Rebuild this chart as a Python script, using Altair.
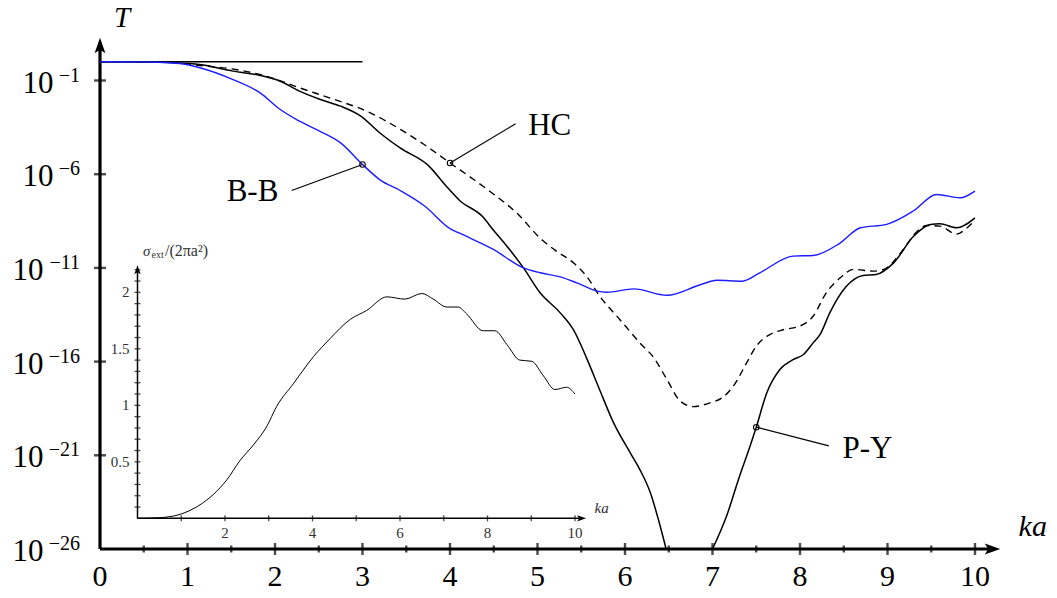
import altair as alt
import pandas as pd

# ---------------- data (log10 T versus ka) ----------------
bb_x = [0, 0.57, 0.91, 1.14, 1.52, 1.83, 2.06, 2.28, 2.51, 2.75, 3.0, 3.2, 3.43, 3.71, 4.0, 4.11,
        4.49, 4.84, 5.03, 5.26, 5.45, 5.68, 5.79, 6.1, 6.48, 6.86, 7.05, 7.34, 7.54, 7.92, 8.15,
        8.45, 8.69, 8.99, 9.3, 9.56, 9.83, 10.0]
bb_y = [0, -0.01, -0.09, -0.32, -0.95, -1.66, -2.55, -3.17, -3.7, -4.33, -5.48, -6.3, -6.87,
        -7.7, -8.9, -9.15, -10.0, -11.0, -11.26, -11.48, -11.8, -12.24, -12.3, -12.12, -12.46,
        -11.9, -11.66, -11.71, -11.26, -10.37, -10.34, -9.7, -8.86, -8.68, -7.95, -7.08, -7.26,
        -6.9]

py1_x = [0, 0.5, 0.85, 1.14, 1.52, 1.83, 2.06, 2.28, 2.51, 2.75, 2.98, 3.2, 3.43, 3.76, 3.95,
         4.11, 4.38, 4.49, 4.65, 4.84, 5.03, 5.26, 5.41, 5.56, 5.71, 5.87, 6.06, 6.17, 6.29, 6.38,
         6.47]
py1_y = [0, -0.01, -0.05, -0.15, -0.5, -0.73, -1.04, -1.57, -2.0, -2.37, -2.9, -3.8, -4.6, -5.57,
         -6.6, -7.4, -8.3, -8.95, -9.84, -11.0, -12.33, -13.4, -14.3, -15.8, -17.5, -19.27, -20.87,
         -21.76, -23.0, -24.4, -26.0]
py2_x = [7.0, 7.16, 7.31, 7.43, 7.5, 7.62, 7.77, 7.92, 8.04, 8.15, 8.23, 8.34, 8.53, 8.72, 8.87,
         9.07, 9.3, 9.49, 9.6, 9.79, 10.0]
py2_y = [-26.0, -24.25, -22.1, -20.5, -19.5, -17.67, -16.42, -15.9, -15.62, -15.0, -14.55, -13.4,
         -11.98, -11.4, -11.35, -10.73, -9.3, -8.68, -8.65, -8.86, -8.33]

hc_x = [0, 0.5, 0.85, 1.14, 1.51, 1.9, 2.28, 2.67, 3.05, 3.43, 3.7, 4.0, 4.27, 4.48, 4.76, 5.05,
        5.2, 5.41, 5.56, 5.71, 5.94, 6.17, 6.33, 6.48, 6.63, 6.78, 6.97, 7.12, 7.24, 7.39, 7.5,
        7.66, 7.81, 8.0, 8.15, 8.3, 8.46, 8.61, 8.84, 8.96, 9.15, 9.34, 9.45, 9.6, 9.79, 9.9, 10.0]
hc_y = [0, -0.01, -0.04, -0.2, -0.38, -0.77, -1.39, -2.0, -2.64, -3.6, -4.4, -5.4, -6.28, -7.0,
        -8.06, -9.5, -10.05, -10.73, -11.44, -12.5, -13.75, -15.0, -15.8, -16.96, -18.1, -18.4,
        -18.2, -17.9, -17.3, -16.07, -15.18, -14.55, -14.3, -14.1, -13.58, -12.33, -11.53, -11.08,
        -11.17, -11.08, -10.2, -9.04, -8.74, -8.77, -9.2, -8.9, -8.45]

flat_x = [0, 3]
flat_y = [0, 0]

# inset: sigma_ext / (2 pi a^2) versus ka
sig_x = [0, 0.51, 0.97, 1.43, 1.73, 2.04, 2.34, 2.65, 2.95, 3.18, 3.56, 4.02, 4.4, 4.86, 5.24,
         5.7, 6.11, 6.5, 6.76, 7.07, 7.33, 7.52, 7.9, 8.17, 8.44, 8.74, 9.01, 9.28, 9.54, 9.81, 10.0]
sig_y = [0, 0.006, 0.035, 0.12, 0.21, 0.34, 0.51, 0.65, 0.81, 0.99, 1.19, 1.43, 1.59, 1.76, 1.84,
         1.96, 1.94, 1.99, 1.94, 1.87, 1.87, 1.81, 1.66, 1.66, 1.54, 1.40, 1.39, 1.26, 1.14, 1.16,
         1.10]

# axes / ticks / labels
x_major = [1, 2, 3, 4, 5, 6, 7, 8, 9, 10]
x_minor = [0.5, 1.5, 2.5, 3.5, 4.5, 5.5, 6.5, 7.5, 8.5, 9.5]
x_lab = [0, 1, 2, 3, 4, 5, 6, 7, 8, 9, 10]
y_tick = [-1, -6, -11, -16, -21]
y_lab_short = [-1, -6]
y_lab_long = [-11, -16, -21, -26]
y_lab = y_lab_short + y_lab_long
y_exp_text = ["\u22121", "\u22126", "\u221211", "\u221216", "\u221221", "\u221226"]
axis_end_x = 10.2
axis_end_y = 0.87

ins_x_tick = [1, 2, 3, 4, 5, 6, 7, 8, 9, 10]
ins_x_lab = [2, 4, 6, 8, 10]
ins_y_tick = [0.1, 0.2, 0.3, 0.4, 0.5, 0.6, 0.7, 0.8, 0.9, 1.0, 1.1, 1.2, 1.3, 1.4, 1.5, 1.6,
              1.7, 1.8, 1.9, 2.0, 2.1, 2.2]
ins_y_lab = [0.5, 1.0, 1.5, 2.0]
ins_y_lab_text = ["0.5", "1", "1.5", "2"]
ins_end_x = 10.15
ins_end_y = 2.2

# annotations
mk_x = [3.0, 4.0, 7.5]
mk_y = [-5.48, -5.4, -19.5]
ld_x = [2.19, 4.75, 8.33]
ld_y = [-6.87, -3.31, -20.5]
ann_text = ["B-B", "HC", "P-Y"]
ann_x = [1.743, 5.14, 8.77]
ann_y = [-7.44, -3.93, -21.13]

# ---------------- chart ----------------
FONT = "Liberation Serif"
BLUE = "#1c1cff"
W, H = 918.75, 543.46

XS = alt.Scale(domain=[0, 10.5], nice=False, zero=False)
YS = alt.Scale(domain=[-26, 3], nice=False, zero=False)
IXS = alt.Scale(domain=[0, 10], range=[37.5, 475], nice=False, zero=False)
IYS = alt.Scale(domain=[0, 2], range=[512.8, 286.8], nice=False, zero=False)


def mx(f="x"):
    return alt.X(f"{f}:Q", scale=XS, axis=None)


def my(f="y"):
    return alt.Y(f"{f}:Q", scale=YS, axis=None)


def ix(f="x"):
    return alt.X(f"{f}:Q", scale=IXS, axis=None)


def iy(f="y"):
    return alt.Y(f"{f}:Q", scale=IYS, axis=None)


bb = pd.DataFrame({"x": bb_x, "y": bb_y})
py = pd.DataFrame({"x": py1_x + py2_x, "y": py1_y + py2_y,
                   "seg": ["a"] * len(py1_x) + ["b"] * len(py2_x)})
hc = pd.DataFrame({"x": hc_x, "y": hc_y})
flat = pd.DataFrame({"x": flat_x, "y": flat_y})

l_flat = alt.Chart(flat).mark_line(color="black", strokeWidth=1.3).encode(x=mx(), y=my())
l_hc = alt.Chart(hc).mark_line(color="black", strokeWidth=1.4, strokeDash=[7, 5],
                               interpolate="monotone").encode(x=mx(), y=my())
l_py = alt.Chart(py).mark_line(color="black", strokeWidth=1.5, interpolate="monotone").encode(
    x=mx(), y=my(), detail="seg:N")
l_bb = alt.Chart(bb).mark_line(color=BLUE, strokeWidth=1.4, interpolate="monotone").encode(
    x=mx(), y=my())

axes_df = pd.DataFrame({"x": [0, 0], "x2": [axis_end_x, 0], "y": [-26, -26], "y2": [-26, axis_end_y]})
l_axes = alt.Chart(axes_df).mark_rule(color="black", strokeWidth=3.2).encode(
    x=mx(), x2="x2:Q", y=my(), y2="y2:Q")
arrow_r = alt.Chart(pd.DataFrame({"x": [axis_end_x], "y": [-26]})).mark_point(
    shape="M-1,-0.7L1,0L-1,0.7L-0.55,0Z", size=240, filled=True, color="black", opacity=1
).encode(x=mx(), y=my())
arrow_u = alt.Chart(pd.DataFrame({"x": [0], "y": [axis_end_y]})).mark_point(
    shape="M-0.7,1L0,-1L0.7,1L0,0.55Z", size=240, filled=True, color="black", opacity=1
).encode(x=mx(), y=my())

tk_major = alt.Chart(pd.DataFrame({"x": x_major, "y": [-26] * len(x_major)})).mark_tick(
    orient="vertical", size=12, thickness=2.4, color="black").encode(x=mx(), y=my())
tk_minor = alt.Chart(pd.DataFrame({"x": x_minor, "y": [-26] * len(x_minor)})).mark_tick(
    orient="vertical", size=7, thickness=2.4, color="black").encode(x=mx(), y=my())
tk_y = alt.Chart(pd.DataFrame({"x": [0] * len(y_tick), "y": y_tick})).mark_tick(
    orient="horizontal", size=12, thickness=2.4, color="black").encode(x=mx(), y=my())

lab_x = alt.Chart(pd.DataFrame({"x": x_lab, "y": [-26] * len(x_lab), "t": [str(v) for v in x_lab]})
                  ).mark_text(font=FONT, fontSize=30, baseline="middle", dy=28, color="black"
                              ).encode(x=mx(), y=my(), text="t:N")
lab_10a = alt.Chart(pd.DataFrame({"x": [0] * len(y_lab_short), "y": y_lab_short,
                                  "t": ["10"] * len(y_lab_short)})).mark_text(
    font=FONT, fontSize=31, align="right", baseline="alphabetic", dx=-46.5, dy=12, color="black"
).encode(x=mx(), y=my(), text="t:N")
lab_10b = alt.Chart(pd.DataFrame({"x": [0] * len(y_lab_long), "y": y_lab_long,
                                  "t": ["10"] * len(y_lab_long)})).mark_text(
    font=FONT, fontSize=31, align="right", baseline="alphabetic", dx=-56.5, dy=12, color="black"
).encode(x=mx(), y=my(), text="t:N")
lab_exp = alt.Chart(pd.DataFrame({"x": [0] * len(y_lab), "y": y_lab, "t": y_exp_text})).mark_text(
    font=FONT, fontSize=20, align="right", baseline="alphabetic", dx=-20, dy=1, color="black"
).encode(x=mx(), y=my(), text="t:N")
t_lab = alt.Chart(pd.DataFrame({"x": [0.251], "y": [1.88], "t": ["T"]})).mark_text(
    font=FONT, fontSize=29, fontStyle="italic", baseline="alphabetic", color="black"
).encode(x=mx(), y=my(), text="t:N")
ka_lab = alt.Chart(pd.DataFrame({"x": [10.66], "y": [-25.33], "t": ["ka"]})).mark_text(
    font=FONT, fontSize=30, fontStyle="italic", baseline="alphabetic", color="black"
).encode(x=mx(), y=my(), text="t:N")

ann = pd.DataFrame({"x": mk_x, "y": mk_y, "x2": ld_x, "y2": ld_y,
                    "tx": ann_x, "ty": ann_y, "t": ann_text})
l_lead = alt.Chart(ann).mark_rule(color="black", strokeWidth=1.2).encode(
    x=mx(), y=my(), x2="x2:Q", y2="y2:Q")
l_mk = alt.Chart(ann).mark_point(shape="circle", size=30, filled=False, color="black",
                                 strokeWidth=1.1, opacity=1).encode(x=mx(), y=my())
l_ann = alt.Chart(ann).mark_text(font=FONT, fontSize=31, baseline="alphabetic", color="black"
                                 ).encode(x=mx("tx"), y=my("ty"), text="t:N")

main = alt.layer(l_axes, arrow_r, arrow_u, tk_major, tk_minor, tk_y, lab_x, lab_10a, lab_10b,
                 lab_exp, t_lab, ka_lab, l_flat, l_hc, l_py, l_bb, l_lead, l_mk, l_ann)

# ---- inset ----
sig = pd.DataFrame({"x": sig_x, "y": sig_y})
i_curve = alt.Chart(sig).mark_line(color="black", strokeWidth=1.0, interpolate="monotone").encode(
    x=ix(), y=iy())
i_axes_df = pd.DataFrame({"x": [0, 0], "x2": [ins_end_x, 0], "y": [0, 0], "y2": [0, ins_end_y]})
i_axes = alt.Chart(i_axes_df).mark_rule(color="black", strokeWidth=1.5).encode(
    x=ix(), x2="x2:Q", y=iy(), y2="y2:Q")
i_arr_r = alt.Chart(pd.DataFrame({"x": [ins_end_x], "y": [0]})).mark_point(
    shape="M-1,-0.7L1,0L-1,0.7L-0.55,0Z", size=80, filled=True, color="black", opacity=1
).encode(x=ix(), y=iy())
i_arr_u = alt.Chart(pd.DataFrame({"x": [0], "y": [ins_end_y]})).mark_point(
    shape="M-0.7,1L0,-1L0.7,1L0,0.55Z", size=80, filled=True, color="black", opacity=1
).encode(x=ix(), y=iy())
i_tx = alt.Chart(pd.DataFrame({"x": ins_x_tick, "y": [0] * len(ins_x_tick)})).mark_tick(
    orient="vertical", size=6, thickness=1.3, color="black").encode(x=ix(), y=iy())
i_ty = alt.Chart(pd.DataFrame({"x": [0] * len(ins_y_tick), "y": ins_y_tick})).mark_tick(
    orient="horizontal", size=6, thickness=1.3, color="black").encode(x=ix(), y=iy())
i_lx = alt.Chart(pd.DataFrame({"x": ins_x_lab, "y": [0] * len(ins_x_lab),
                               "t": [str(v) for v in ins_x_lab]})).mark_text(
    font=FONT, fontSize=15, baseline="middle", dy=15, color="#333333"
).encode(x=ix(), y=iy(), text="t:N")
i_ly = alt.Chart(pd.DataFrame({"x": [0] * len(ins_y_lab), "y": ins_y_lab, "t": ins_y_lab_text})
                 ).mark_text(font=FONT, fontSize=15, align="right", baseline="middle", dx=-8,
                             color="#333333").encode(x=ix(), y=iy(), text="t:N")
i_ka = alt.Chart(pd.DataFrame({"x": [10.61], "y": [0.09], "t": ["ka"]})).mark_text(
    font=FONT, fontSize=15, fontStyle="italic", baseline="middle", color="#333333"
).encode(x=ix(), y=iy(), text="t:N")
ttl = pd.DataFrame({"x": [0.126] * 3, "y": [2.37] * 3, "t": ["\u03c3", "ext", "/(2\u03c0a\u00b2)"]})
i_ttl = alt.layer(
    alt.Chart(ttl.iloc[[0]]).mark_text(font=FONT, fontSize=15, fontStyle="italic", align="left",
                                       baseline="middle", color="#333333"
                                       ).encode(x=ix(), y=iy(), text="t:N"),
    alt.Chart(ttl.iloc[[1]]).mark_text(font=FONT, fontSize=10, align="left", baseline="middle",
                                       dx=8.5, dy=4, color="#333333"
                                       ).encode(x=ix(), y=iy(), text="t:N"),
    alt.Chart(ttl.iloc[[2]]).mark_text(font=FONT, fontSize=16, align="left", baseline="middle",
                                       dx=22, color="#333333"
                                       ).encode(x=ix(), y=iy(), text="t:N"),
)

inset = alt.layer(i_axes, i_arr_r, i_arr_u, i_tx, i_ty, i_lx, i_ly, i_ka, i_ttl, i_curve)

chart = alt.layer(main, inset).resolve_scale(x="independent", y="independent").properties(
    width=W, height=H,
    autosize=alt.AutoSizeParams(type="none"),
    padding={"left": 100, "top": 5.54, "right": 38.25, "bottom": 49},
).configure_view(stroke=None)

chart.save("out.html", embed_options={"renderer": "svg", "actions": False})
